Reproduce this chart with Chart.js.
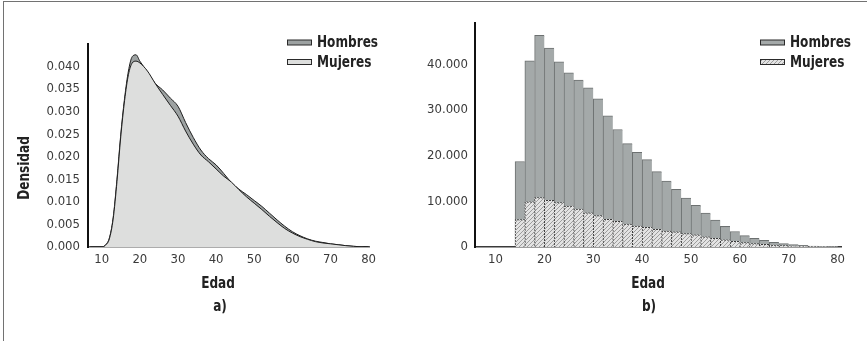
<!DOCTYPE html>
<html lang="es">
<head>
<meta charset="utf-8">
<title>Distribución de la edad por sexo</title>
<script src="https://cdn.jsdelivr.net/npm/chart.js@4"></script>
<style>
  html, body { margin: 0; padding: 0; background: #fff; }
  #pagina { position: relative; width: 867px; height: 341px; overflow: hidden; }
  #pagina canvas { position: absolute; top: 0; }
  #densidad { left: 0; }
  #histograma { left: 390px; }
  #marco {
    position: absolute; left: 3px; top: 1px; width: 900px; height: 400px;
    border-top: 1.5px solid #727272; border-left: 1.5px solid #727272;
  }
</style>
</head>
<body>
<div id="pagina">
  <canvas id="densidad" width="430" height="341"></canvas>
  <canvas id="histograma" width="477" height="341"></canvas>
  <div id="marco"></div>
</div>
<script>
// --- Datos: curvas de densidad de la edad (panel a) ---
const edadesDensidad = [7, 10, 11, 12, 13, 14, 15, 16, 17, 18, 19, 20, 22, 24, 26, 28, 30, 32, 34, 36, 38,
  40, 42, 44, 46, 48, 50, 52, 54, 56, 58, 60, 62, 64, 66, 68, 70, 72, 74, 76, 78, 80];
const densidadHombres = [0, 0, 0.0005, 0.0020, 0.0065, 0.0150, 0.0250, 0.0330, 0.0390, 0.0422, 0.0426, 0.0412,
  0.0388, 0.0363, 0.0348, 0.0330, 0.0312, 0.0276, 0.0243, 0.0215, 0.0196, 0.0182, 0.0163, 0.0143, 0.0128,
  0.0116, 0.0103, 0.0090, 0.0075, 0.0060, 0.0046, 0.0034, 0.0025, 0.0018, 0.0013, 0.0010, 0.0007, 0.0005,
  0.0003, 0.00015, 0.00005, 0];
const densidadMujeres = [0, 0, 0.0004, 0.0018, 0.0062, 0.0145, 0.0245, 0.0325, 0.0382, 0.0408, 0.0412, 0.0408,
  0.0390, 0.0363, 0.0338, 0.0314, 0.0290, 0.0257, 0.0228, 0.0204, 0.0189, 0.0173, 0.0157, 0.0144, 0.0127,
  0.0111, 0.0097, 0.0083, 0.0068, 0.0054, 0.0041, 0.0031, 0.0023, 0.0017, 0.0012, 0.0009, 0.0007, 0.0005,
  0.0003, 0.00015, 0.00005, 0];
const marcasDensidad = [0, 0.005, 0.010, 0.015, 0.020, 0.025, 0.030, 0.035, 0.040];

// --- Datos: frecuencias por grupos de dos años (panel b) ---
const centrosEdad = [15, 17, 19, 21, 23, 25, 27, 29, 31, 33, 35, 37, 39, 41, 43, 45, 47, 49, 51, 53, 55, 57,
  59, 61, 63, 65, 67, 69, 71, 73, 75, 77, 79];
const frecuenciaHombres = [18700, 40700, 46300, 43500, 40500, 38100, 36500, 34800, 32400, 28700, 25700, 22600,
  20700, 19100, 16500, 14400, 12600, 10700, 9100, 7400, 5900, 4500, 3400, 2500, 1900, 1450, 1000, 730, 510,
  360, 220, 140, 70];
const frecuenciaMujeres = [6000, 9900, 10800, 10200, 9700, 8950, 8300, 7500, 6850, 6050, 5600, 5000, 4600, 4300,
  3850, 3500, 3300, 2950, 2650, 2250, 1900, 1550, 1250, 950, 730, 580, 430, 300, 200, 140, 90, 50, 25];
const marcasFrecuencia = [0, 10000, 20000, 30000, 40000];

const marcasEdad = [10, 20, 30, 40, 50, 60, 70, 80];

const FAMILIA = '"Liberation Sans Narrow", "DejaVu Sans Condensed", "Arial Narrow", sans-serif';
Chart.defaults.font.family = FAMILIA;
Chart.defaults.color = '#3a3a3a';

// Relleno rayado (////) para las barras de mujeres
function patronRayado() {
  const c = document.createElement('canvas');
  c.width = 4; c.height = 4;
  const g = c.getContext('2d');
  g.fillStyle = '#e3e3e3';
  g.fillRect(0, 0, 4, 4);
  g.strokeStyle = '#8a8a8a';
  g.lineWidth = 0.8;
  g.beginPath();
  g.moveTo(-1, 5); g.lineTo(5, -1);
  g.moveTo(-1, 1); g.lineTo(1, -1);
  g.moveTo(3, 5); g.lineTo(5, 3);
  g.stroke();
  return g.createPattern(c, 'repeat');
}

// Borde punteado: cada fila y columna alterna dos píxeles oscuros y uno claro
function patronPunteado() {
  const c = document.createElement('canvas');
  c.width = 3; c.height = 3;
  const g = c.getContext('2d');
  g.fillStyle = '#3a3a3a';
  g.fillRect(0, 0, 3, 3);
  g.fillStyle = '#e3e3e3';
  for (let i = 0; i < 3; i++) g.fillRect(i, i, 1, 1);
  return g.createPattern(c, 'repeat');
}

const rayado = patronRayado();
const punteado = patronPunteado();

// Texto en negrita estrechado horizontalmente (estilo condensado)
function textoEstrecho(ctx, texto, x, y, alinear, girado) {
  ctx.save();
  ctx.translate(x, y);
  if (girado) ctx.rotate(-Math.PI / 2);
  ctx.scale(0.84, 1);
  ctx.textAlign = alinear;
  ctx.fillText(texto, 0, 0);
  ctx.restore();
}

// Leyenda con cajas alargadas, una fila por serie
const leyendaCajas = {
  id: 'leyendaCajas',
  afterDraw(chart, args, opts) {
    const ctx = chart.ctx;
    ctx.save();
    ctx.font = 'bold 16px ' + FAMILIA;
    ctx.textBaseline = 'middle';
    chart.data.datasets.forEach((ds, i) => {
      const y = opts.y + i * opts.paso;
      ctx.fillStyle = ds.backgroundColor;
      ctx.fillRect(opts.x, y - 2.5, 24, 5);
      ctx.strokeStyle = '#2a2a2a';
      ctx.lineWidth = 1;
      ctx.strokeRect(opts.x + 0.5, y - 2.5, 24, 5);
      ctx.fillStyle = '#222';
      textoEstrecho(ctx, ds.label, opts.x + 30, y + 0.5, 'left', false);
    });
    ctx.restore();
  }
};

// Títulos de ejes y letra del panel
const rotulos = {
  id: 'rotulos',
  afterDraw(chart, args, opts) {
    const ctx = chart.ctx;
    ctx.save();
    ctx.font = 'bold 16px ' + FAMILIA;
    ctx.fillStyle = '#222';
    ctx.textBaseline = 'middle';
    for (const r of opts.textos) {
      textoEstrecho(ctx, r.texto, r.x, r.y, 'center', r.girado);
    }
    ctx.restore();
  }
};

const fijarMarcas = (valores) => (scale) => { scale.ticks = valores.map(v => ({ value: v })); };
const miles = (v) => String(v).replace(/\B(?=(\d{3})+(?!\d))/g, '.');

// --- Panel a: densidades ---
new Chart(document.getElementById('densidad'), {
  type: 'line',
  data: {
    datasets: [
      {
        label: 'Hombres',
        data: edadesDensidad.map((x, i) => ({ x, y: densidadHombres[i] })),
        backgroundColor: '#9da2a2',
        borderColor: '#1e1e1e',
        borderWidth: 1,
        fill: 'origin',
        order: 1
      },
      {
        label: 'Mujeres',
        data: edadesDensidad.map((x, i) => ({ x, y: densidadMujeres[i] })),
        backgroundColor: '#dddedd',
        borderColor: '#1e1e1e',
        borderWidth: 1,
        fill: 'origin',
        order: 0
      }
    ]
  },
  options: {
    responsive: false,
    animation: false,
    devicePixelRatio: 1,
    layout: { padding: { top: 44, right: 61, left: 0, bottom: 0 } },
    elements: { point: { radius: 0 }, line: { cubicInterpolationMode: 'monotone' } },
    scales: {
      x: {
        type: 'linear', min: 6.4, max: 80.1,
        grid: { display: false, drawTicks: false },
        border: { display: true, color: '#5a5a5a', width: 1.5 },
        ticks: { font: { size: 13 }, padding: 5, callback: v => String(v) },
        afterBuildTicks: fijarMarcas(marcasEdad),
        afterFit: s => { s.height = 94; }
      },
      y: {
        min: 0, max: 0.045,
        grid: { display: false, drawTicks: false },
        border: { display: true, color: '#111', width: 2 },
        ticks: { font: { size: 13 }, padding: 8, callback: v => v.toFixed(3) },
        afterBuildTicks: fijarMarcas(marcasDensidad),
        afterFit: s => { s.width = 88; }
      }
    },
    plugins: {
      legend: { display: false },
      tooltip: { enabled: false },
      leyendaCajas: { x: 287, y: 42.5, paso: 19.5 },
      rotulos: {
        textos: [
          { texto: 'Densidad', x: 25, y: 168, girado: true },
          { texto: 'Edad', x: 218, y: 284 },
          { texto: 'a)', x: 220, y: 307 }
        ]
      }
    }
  },
  plugins: [leyendaCajas, rotulos]
});

// --- Panel b: histograma de frecuencias ---
new Chart(document.getElementById('histograma'), {
  type: 'bar',
  data: {
    datasets: [
      {
        label: 'Hombres',
        data: centrosEdad.map((x, i) => ({ x, y: frecuenciaHombres[i] })),
        backgroundColor: '#a4a9a9',
        borderColor: '#6c7070',
        borderWidth: { top: 1, left: 1, right: 0, bottom: 0 },
        borderSkipped: false,
        order: 1
      },
      {
        label: 'Mujeres',
        data: centrosEdad.map((x, i) => ({ x, y: frecuenciaMujeres[i] })),
        backgroundColor: rayado,
        borderColor: punteado,
        borderWidth: { top: 1, left: 1, right: 0, bottom: 0 },
        borderSkipped: false,
        order: 0
      }
    ]
  },
  options: {
    responsive: false,
    animation: false,
    devicePixelRatio: 1,
    grouped: false,
    barPercentage: 1,
    categoryPercentage: 1,
    layout: { padding: { top: 23, right: 26, left: 0, bottom: 0 } },
    scales: {
      x: {
        type: 'linear', min: 5.8, max: 80.7, offset: false,
        grid: { display: false, drawTicks: false },
        border: { display: true, color: '#3a3a3a', width: 1.5 },
        ticks: { font: { size: 13 }, padding: 5, callback: v => String(v) },
        afterBuildTicks: fijarMarcas(marcasEdad),
        afterFit: s => { s.height = 94; }
      },
      y: {
        min: 0, max: 49000,
        grid: { display: false, drawTicks: false },
        border: { display: true, color: '#111', width: 2 },
        ticks: { font: { size: 13 }, padding: 7, callback: v => miles(v) },
        afterBuildTicks: fijarMarcas(marcasFrecuencia),
        afterFit: s => { s.width = 85; }
      }
    },
    plugins: {
      legend: { display: false },
      tooltip: { enabled: false },
      leyendaCajas: { x: 370, y: 42.5, paso: 19.5 },
      rotulos: {
        textos: [
          { texto: 'Edad', x: 258, y: 284 },
          { texto: 'b)', x: 259, y: 307 }
        ]
      }
    }
  },
  plugins: [leyendaCajas, rotulos]
});
</script>
</body>
</html>
